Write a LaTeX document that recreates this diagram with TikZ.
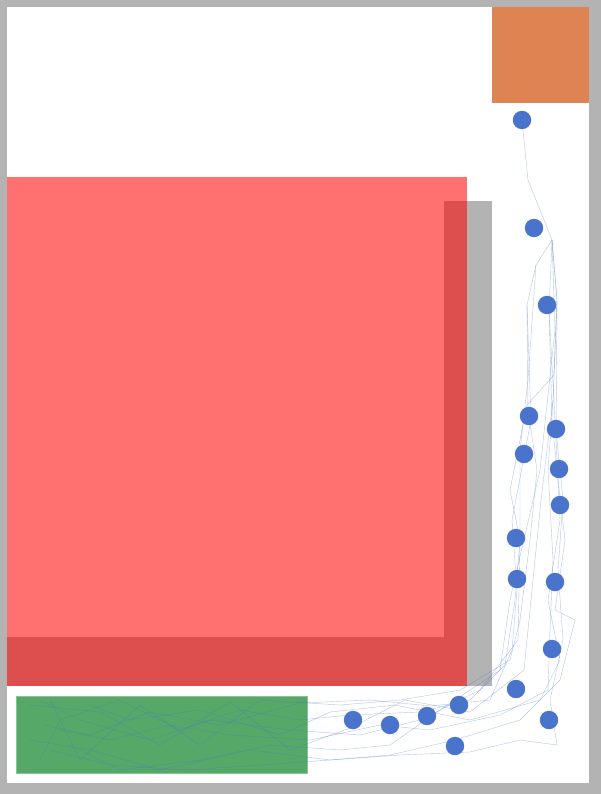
\documentclass[tikz,border=0pt]{standalone}
\usetikzlibrary{positioning}
\usepackage{xcolor}
\definecolor{wallgray}{HTML}{B3B3B3}
\definecolor{hazred}{HTML}{FF0000}
\definecolor{startorange}{HTML}{DD8452}
\definecolor{goalgreen}{HTML}{55A868}
\definecolor{visitblue}{HTML}{4A73CB}

\begin{document}
\begin{tikzpicture}[
      x=0.025cm, y=-0.025cm,
      visit/.style={circle, fill=visitblue, minimum size=0.46cm, inner sep=0pt},
      traj/.style={draw=visitblue, opacity=0.4, line width=0.3pt},
    ]
    % arena
    \fill[wallgray] (0,0) rectangle (601,794);
    \fill[white] (7,7) rectangle (589,783);
    % walls and hazard
    \fill[wallgray] (444,201) rectangle (492,686);
    \fill[wallgray] (7,637) rectangle (492,686);
    \fill[hazred, opacity=0.56] (7,177) rectangle (467,686);
    % start and goal
    \fill[startorange] (492,7) rectangle (589,103);
    \fill[goalgreen, draw=goalgreen!70!white, line width=0.4pt] (16,696) rectangle (307,773);

    % trajectories
    \draw[traj] (522,120) -- (525,150) -- (528,180) -- (552,240) -- (557,300) -- (554,375) -- (527,405)
      -- (510,490) -- (520,540) -- (515,600) -- (505,665) -- (470,700) -- (420,712)
      -- (350,715) -- (300,720) -- (240,710) -- (180,730) -- (120,700) -- (60,720) -- (40,760);
    \draw[traj] (552,240) -- (536,265) -- (527,305) -- (528,410)
      -- (537,470) -- (530,540) -- (520,620) -- (510,660) -- (460,690) -- (400,700)
      -- (340,705) -- (260,700) -- (200,745) -- (140,705) -- (80,760) -- (50,700);
    \draw[traj] (552,240) -- (549,310) -- (552,420) -- (558,480)
      -- (565,540) -- (555,610) -- (575,620) -- (560,680) -- (520,720) -- (455,740)
      -- (390,755) -- (330,760) -- (250,750) -- (160,770) -- (90,750) -- (30,740);
    \draw[traj] (552,240) -- (557,300) -- (553,400) -- (548,470)
      -- (553,560) -- (550,630) -- (548,690) -- (500,715) -- (430,730) -- (380,725)
      -- (310,740) -- (230,735) -- (170,725) -- (110,740) -- (60,730);
    \draw[traj] (552,240) -- (555,330) -- (540,470) -- (510,600)
      -- (500,670) -- (440,710) -- (390,745) -- (340,750) -- (270,745) -- (200,760)
      -- (120,770) -- (70,745);
    \draw[traj] (536,265) -- (528,380) -- (520,450)
      -- (520,540) -- (518,640) -- (480,690) -- (420,720) -- (360,735) -- (290,730)
      -- (210,720) -- (150,740) -- (80,720) -- (40,700);
    \draw[traj] (557,300) -- (556,440) -- (560,520)
      -- (548,600) -- (560,660) -- (540,700) -- (470,720) -- (395,705) -- (330,712)
      -- (280,735) -- (200,710) -- (130,720) -- (90,705);
    \draw[traj] (549,310) -- (555,420) -- (563,500)
      -- (558,570) -- (563,640) -- (550,700) -- (557,745) -- (520,740) -- (470,752)
      -- (400,755) -- (330,760) -- (260,765) -- (190,770) -- (110,765) -- (50,750);
    \draw[traj] (527,305) -- (531,420) -- (512,520)
      -- (517,590) -- (512,650) -- (490,700) -- (430,706) -- (370,700) -- (300,703)
      -- (220,725) -- (150,712) -- (90,735) -- (45,725);
    \draw[traj] (553,400) -- (541,500) -- (530,610) -- (524,670) -- (470,712)
      -- (405,700) -- (350,728) -- (290,750) -- (230,702) -- (160,745) -- (100,712) -- (30,705);

    % visited states
    \foreach \name/\px/\py in {v1/522/120, v2/534/228, v3/547/305, v4/529/416, v5/556/429,
        v6/524/454, v7/559/469, v8/560/505, v9/516/538, v10/517/579, v11/555/582,
        v12/552/649, v13/516/689, v14/549/720, v15/459/705, v16/427/716, v17/390/725,
        v18/353/720, v19/455/746}
      \node[visit] (\name) at (\px,\py) {};
  \end{tikzpicture}
\end{document}
